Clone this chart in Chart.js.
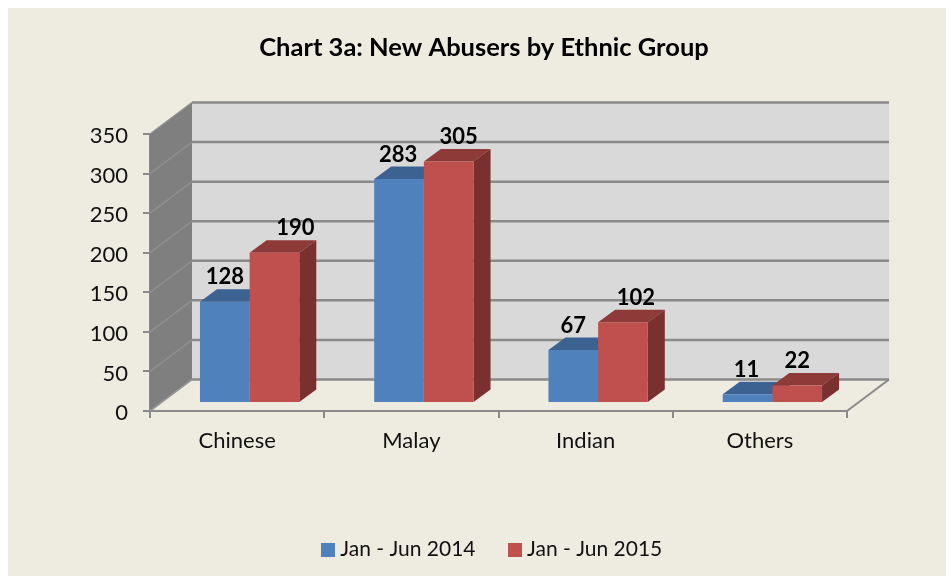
<!DOCTYPE html>
<html lang="en">
<head>
    <meta charset="UTF-8">
    <title>Chart 3a: New Abusers by Ethnic Group</title>
    <script src="https://cdn.jsdelivr.net/npm/chart.js"></script>
    <style>
        html, body { margin: 0; padding: 0; background: #ffffff; overflow: hidden; }
        #wrap { width: 946px; height: 576px; }
    </style>
</head>
<body>
    <div id="wrap"><canvas id="chart" width="946" height="576"></canvas></div>

    <script>
        const categories = ['Chinese', 'Malay', 'Indian', 'Others'];
        const series2014 = [128, 283, 67, 11];
        const series2015 = [190, 305, 102, 22];
        const seriesNames = ['Jan - Jun 2014', 'Jan - Jun 2015'];
        const yMax = 350;
        const yStep = 50;

        const FONT = 'Lato, sans-serif';
        const TEXT = '#111111';
        const LINE = '#8a8a8a';
        const BG = '#eeece1';
        const frontColors = ['#4f81bd', '#c0504d'];

        // how the fake 3d box is laid out, px
        const wallDx = 42, wallDy = -31.5;
        const barShiftX = 12.5, barShiftY = -8;
        const barDx = 17, barDy = -12.5;

        const sideColors = [
            { top: '#3c6291', side: '#385d8a' },
            { top: '#8e3a38', side: '#7a302e' }
        ];
        const labelNudge = [[0, -1, 0, -1], [21, 10, 13, 0]];

        function poly(ctx, pts, fill) {
            ctx.beginPath();
            pts.forEach((p, i) => i ? ctx.lineTo(p[0], p[1]) : ctx.moveTo(p[0], p[1]));
            ctx.closePath();
            ctx.fillStyle = fill;
            ctx.fill();
        }

        function seg(ctx, x1, y1, x2, y2, color, width) {
            ctx.beginPath();
            ctx.moveTo(x1, y1);
            ctx.lineTo(x2, y2);
            ctx.strokeStyle = color;
            ctx.lineWidth = width;
            ctx.stroke();
        }

        // legend swatch as a small canvas, so the gap to the text can stay tight
        function swatch(color) {
            const c = document.createElement('canvas');
            c.width = 14;
            c.height = 14;
            const g = c.getContext('2d');
            g.fillStyle = color;
            g.fillRect(0, 0, 14, 14);
            return c;
        }

        const box3d = {
            id: 'box3d',
            afterLayout(chart) {
                // title and legend are not centred on the same x in the original
                chart.titleBlock.left = 22;
                chart.titleBlock.right = 946;
                const h = chart.legend.height;
                chart.legend.left = 42;
                chart.legend.right = 946;
                chart.legend.top = 502;
                chart.legend.bottom = 502 + h;
            },
            beforeDraw(chart) {
                chart.ctx.fillStyle = BG;
                chart.ctx.fillRect(8, 8, 938, 568);
            },
            beforeDatasetsDraw(chart) {
                const ctx = chart.ctx;
                const a = chart.chartArea;
                const y = chart.scales.y;
                const l = a.left, r = a.right, t = a.top, b = a.bottom;

                poly(ctx, [[l + wallDx, t + wallDy], [r + wallDx, t + wallDy], [r + wallDx, b + wallDy], [l + wallDx, b + wallDy]], '#d9d9d9');
                poly(ctx, [[l, t], [l + wallDx, t + wallDy], [l + wallDx, b + wallDy], [l, b]], '#7f7f7f');

                y.ticks.forEach(tick => {
                    const py = y.getPixelForValue(tick.value);
                    seg(ctx, l, py, l + wallDx, py + wallDy, '#8f8f8f', 1.5);
                    seg(ctx, l + wallDx, py + wallDy, r + wallDx, py + wallDy, LINE, 2.5);
                });
                seg(ctx, l, b, l + wallDx, b + wallDy, '#9a9a9a', 1.5);
                seg(ctx, r, b, r + wallDx, b + wallDy, LINE, 2);

                // sides and tops of the bars, the library draws the front faces
                chart.data.datasets.forEach((ds, i) => {
                    chart.getDatasetMeta(i).data.forEach(bar => {
                        const x1 = bar.x - bar.width / 2 + barShiftX;
                        const x2 = bar.x + bar.width / 2 + barShiftX;
                        const top = bar.y + barShiftY;
                        const base = bar.base + barShiftY;
                        poly(ctx, [[x1, top], [x2, top], [x2 + barDx, top + barDy], [x1 + barDx, top + barDy]], sideColors[i].top);
                        poly(ctx, [[x2, top], [x2 + barDx, top + barDy], [x2 + barDx, base + barDy], [x2, base]], sideColors[i].side);
                    });
                });

                ctx.save();
                ctx.translate(barShiftX, barShiftY);
            },
            afterDatasetsDraw(chart) {
                const ctx = chart.ctx;
                ctx.restore();

                ctx.save();
                ctx.font = 'bold 22px ' + FONT;
                ctx.fillStyle = '#000000';
                ctx.textAlign = 'center';
                ctx.textBaseline = 'middle';
                chart.data.datasets.forEach((ds, i) => {
                    chart.getDatasetMeta(i).data.forEach((bar, j) => {
                        ctx.fillText(ds.data[j], bar.x + barShiftX + labelNudge[i][j], bar.y + barShiftY - 24.5);
                    });
                });
                ctx.restore();
            }
        };

        new Chart(document.getElementById('chart'), {
            type: 'bar',
            data: {
                labels: categories,
                datasets: [
                    { label: seriesNames[0], data: series2014, backgroundColor: frontColors[0], clip: false },
                    { label: seriesNames[1], data: series2015, backgroundColor: frontColors[1], clip: false }
                ]
            },
            plugins: [box3d],
            options: {
                responsive: false,
                animation: false,
                layout: { padding: { left: 0, right: 99, top: 0, bottom: 0 } },
                datasets: { bar: { barPercentage: 1, categoryPercentage: 0.57 } },
                plugins: {
                    title: {
                        display: true,
                        text: 'Chart 3a: New Abusers by Ethnic Group',
                        color: '#000000',
                        font: { family: FONT, size: 25.5, weight: 'bold' },
                        padding: { top: 32, bottom: 71.4 }
                    },
                    legend: {
                        position: 'bottom',
                        labels: {
                            color: TEXT,
                            font: { family: FONT, size: 21 },
                            boxWidth: 4,
                            padding: 37,
                            usePointStyle: true,
                            pointStyleWidth: 4,
                            generateLabels: () => seriesNames.map((name, i) => ({
                                text: name,
                                datasetIndex: i,
                                hidden: false,
                                fontColor: TEXT,
                                lineWidth: 0,
                                pointStyle: swatch(frontColors[i])
                            }))
                        }
                    },
                    tooltip: { enabled: false }
                },
                scales: {
                    x: {
                        afterFit(scale) { scale.height = 97; },
                        grid: {
                            offset: true,
                            drawOnChartArea: false,
                            color: LINE,
                            lineWidth: 2,
                            tickLength: 7
                        },
                        border: { color: LINE, width: 2 },
                        ticks: { color: TEXT, font: { family: FONT, size: 22 }, padding: 10, maxRotation: 0 }
                    },
                    y: {
                        min: 0,
                        max: yMax,
                        afterFit(scale) { scale.width = 150; },
                        grid: { drawOnChartArea: false, color: LINE, lineWidth: 2, tickLength: 7 },
                        border: { color: LINE, width: 2 },
                        ticks: { stepSize: yStep, color: TEXT, font: { family: FONT, size: 22 }, padding: 15, labelOffset: 2 }
                    }
                }
            }
        });
    </script>
</body>
</html>
